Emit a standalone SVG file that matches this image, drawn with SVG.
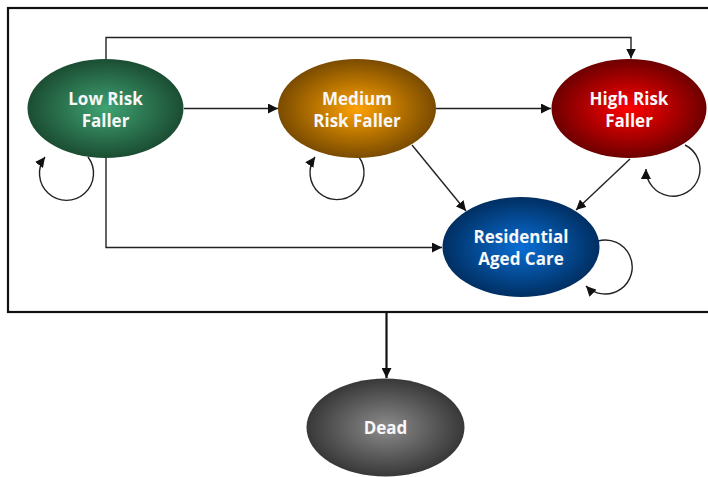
<svg xmlns="http://www.w3.org/2000/svg" width="708" height="477" viewBox="0 0 708 477">
<defs>
<radialGradient id="gLow" cx="50%" cy="50%" r="50%"><stop offset="0" stop-color="#3fa373"/><stop offset="1" stop-color="#1b4d33"/></radialGradient>
<radialGradient id="gMed" cx="50%" cy="50%" r="50%"><stop offset="0" stop-color="#ffa200"/><stop offset="1" stop-color="#7a4b00"/></radialGradient>
<radialGradient id="gHigh" cx="50%" cy="50%" r="50%"><stop offset="0" stop-color="#ff0000"/><stop offset="1" stop-color="#6e0000"/></radialGradient>
<radialGradient id="gRes" cx="50%" cy="50%" r="50%"><stop offset="0" stop-color="#0a6ed6"/><stop offset="1" stop-color="#002f62"/></radialGradient>
<radialGradient id="gDead" cx="50%" cy="50%" r="50%"><stop offset="0" stop-color="#8c8c8c"/><stop offset="1" stop-color="#383838"/></radialGradient>
<marker id="ah" viewBox="0 0 10 10" refX="10" refY="5" markerWidth="10" markerHeight="10" markerUnits="userSpaceOnUse" orient="auto"><path d="M0,0 L10,5 L0,10 z" fill="#111"/></marker>
</defs>
<style>
.c{fill:none;stroke:#222;stroke-width:1.4}
.t{font-family:"Open Sans","DejaVu Sans",sans-serif;font-weight:bold;font-size:17px;fill:#f8f8f8;text-anchor:middle}
</style>
<rect x="8" y="8" width="710" height="304" fill="none" stroke="#111" stroke-width="2.2"/>
<g id="connectors">
<path class="c" d="M106,59 V37.5 H631 V58.5" marker-end="url(#ah)"/>
<path class="c" d="M184,108.5 H278" marker-end="url(#ah)"/>
<path class="c" d="M436,108.5 H551" marker-end="url(#ah)"/>
<path class="c" d="M106,158 V247.5 H442" marker-end="url(#ah)"/>
<path class="c" d="M412,145 L466,211" marker-end="url(#ah)"/>
<path class="c" d="M630,159 L576,210" marker-end="url(#ah)"/>
<path class="c" d="M88,157 A27,27 0 1 1 45,157" marker-end="url(#ah)"/>
<path class="c" d="M359,157 A27,27 0 1 1 315,157" marker-end="url(#ah)"/>
<path class="c" d="M685,145 A27,27 0 1 1 646,169" marker-end="url(#ah)"/>
<path class="c" d="M598,241 A27,27 0 1 1 586,286" marker-end="url(#ah)"/>
<path d="M386.5,313 V378" fill="none" stroke="#111" stroke-width="2.2" marker-end="url(#ah)"/>
</g>
<g id="low"><ellipse cx="105.5" cy="108.5" rx="78" ry="49.5" fill="url(#gLow)"/><text class="t" x="105.5" y="105">Low Risk</text><text class="t" x="105.5" y="127">Faller</text></g>
<g id="medium"><ellipse cx="357" cy="108.5" rx="79" ry="49.5" fill="url(#gMed)"/><text class="t" x="357" y="105">Medium</text><text class="t" x="357" y="127">Risk Faller</text></g>
<g id="high"><ellipse cx="629" cy="108.5" rx="77.5" ry="49.5" fill="url(#gHigh)"/><text class="t" x="629" y="105">High Risk</text><text class="t" x="629" y="127">Faller</text></g>
<g id="residential"><ellipse cx="521" cy="247" rx="78.5" ry="50" fill="url(#gRes)"/><text class="t" x="521" y="242.5">Residential</text><text class="t" x="521" y="264.5">Aged Care</text></g>
<g id="dead"><ellipse cx="385.5" cy="427.5" rx="79" ry="49" fill="url(#gDead)"/><text class="t" x="385.5" y="434">Dead</text></g>
</svg>
